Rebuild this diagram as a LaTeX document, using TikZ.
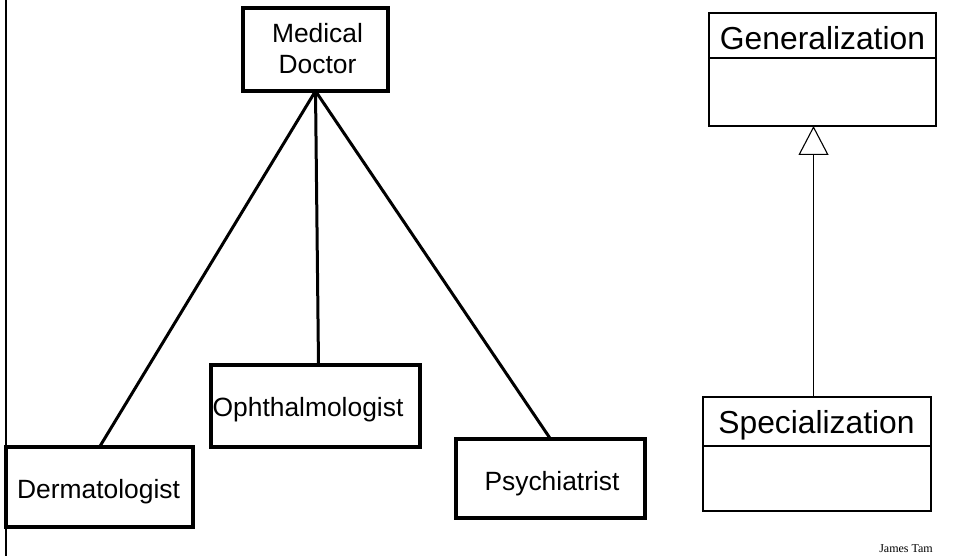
\documentclass[tikz,border=0pt]{standalone}
\usepackage{fontspec}
\setmainfont{Liberation Sans}
\newfontfamily\serifjt{Liberation Serif}
\usetikzlibrary{arrows.meta}
\tikzset{
  thickbox/.style={draw=black, line width=3.5pt, fill=white, inner sep=0pt, outer sep=0pt},
  umlbox/.style={draw=black, line width=1.1pt, fill=white, inner sep=0pt, outer sep=0pt},
  lbl/.style={inner sep=0pt, outer sep=0pt, font=\fontsize{26.4}{31}\selectfont},
  biglbl/.style={inner sep=0pt, outer sep=0pt, font=\fontsize{31.8}{36}\selectfont},
  conn/.style={line width=3pt},
  umlconn/.style={line width=1.1pt}
}
\begin{document}
\begin{tikzpicture}[x=1pt,y=-1pt]
\useasboundingbox (0,0) rectangle (957,556);
% left frame line
\coordinate (ftop) at (6,0);
\coordinate (fbot) at (6,556);
\draw[line width=2.5pt] (ftop) -- (fbot);
% boxes
\node[thickbox, minimum width=145pt, minimum height=83pt] (md) at (315.5,49.5) {};
\node[thickbox, minimum width=187pt, minimum height=80pt] (derm) at (99.5,487) {};
\node[thickbox, minimum width=209pt, minimum height=82pt] (oph) at (315.5,406) {};
\node[thickbox, minimum width=189pt, minimum height=79pt] (psy) at (550.5,478.5) {};
% connectors
\draw[conn] (md.south) -- (derm.north);
\draw[conn] (md.south) -- ([xshift=3pt]oph.north);
\draw[conn] (md.south) -- (psy.north);
% labels
\node[lbl, anchor=north, align=center] (mdt) at (317.5,23.8) {Medical\\Doctor};
\node[lbl, anchor=base] (dermt) at (98.5,498) {Dermatologist};
\node[lbl, anchor=base] (opht) at (308,416) {Ophthalmologist};
\node[lbl, anchor=base] (psyt) at (552,490) {Psychiatrist};
% UML boxes
\node[umlbox, minimum width=227pt, minimum height=113pt] (gen) at (822.5,69.5) {};
\draw[umlconn] (gen.west |- 0,58) -- (gen.east |- 0,58);
\node[biglbl, anchor=base] (gent) at (822.5,50) {Generalization};
\node[umlbox, minimum width=228pt, minimum height=114pt] (spec) at (817,454) {};
\draw[umlconn] (spec.west |- 0,446) -- (spec.east |- 0,446);
\node[biglbl, anchor=base] (spect) at (816.5,433) {Specialization};
% generalization arrow
\coordinate (tip) at (813.5,126);
\draw[umlconn, -{Triangle[open, length=29pt, width=30pt, line width=1.1pt]}] (spec.north -| tip) -- (gen.south -| tip);
% footer
\node[inner sep=0pt, anchor=base, font=\serifjt\fontsize{12}{14}\selectfont] (jt) at (906,552) {James Tam};
\end{tikzpicture}
\end{document}
